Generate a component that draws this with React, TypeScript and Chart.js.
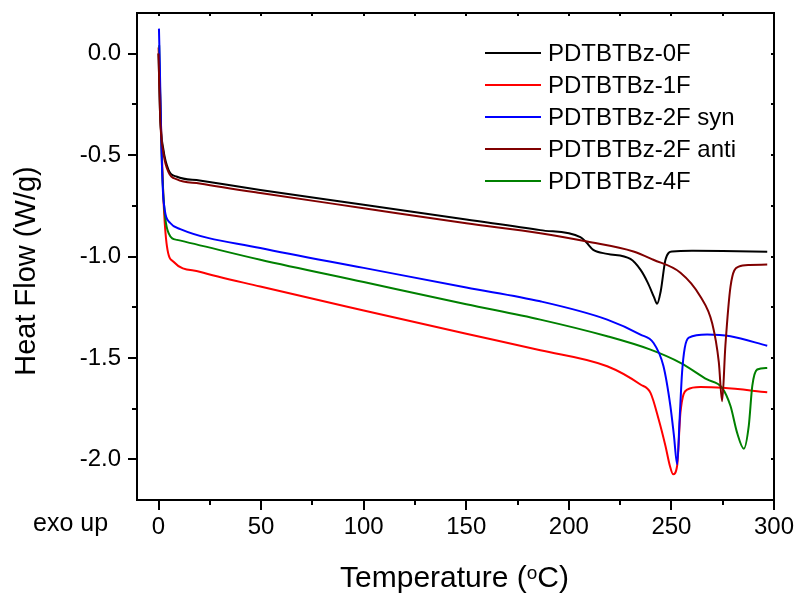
import React, { useEffect, useRef } from "react";
import { Chart, registerables } from "chart.js";

Chart.register(...registerables);

const FONT = "'Liberation Sans', Arial, Helvetica, sans-serif";

const seriesLabels = ["PDTBTBz-0F", "PDTBTBz-1F", "PDTBTBz-2F syn", "PDTBTBz-2F anti", "PDTBTBz-4F"];
const seriesColors = ["#000000", "#ff0000", "#0000ff", "#800000", "#008000"];
const seriesOrder = [5, 4, 2, 1, 3];

const temp0F = [0, 0.8, 2.4, 4.9, 9.0, 20, 49.6, 100, 150, 186.1, 205.6, 208.5, 211.9, 218.7, 230.0, 234.9, 238.5, 241.5, 243.0, 244.8, 247.1, 250.4, 260, 275, 296.7];
const flow0F = [0.0, -0.31, -0.475, -0.574, -0.607, -0.625, -0.672, -0.745, -0.818, -0.87, -0.905, -0.93, -0.967, -0.987, -1.012, -1.065, -1.13, -1.2, -1.233, -1.17, -1.016, -0.975, -0.972, -0.973, -0.977];

const temp1F = [0, 0.6, 1.5, 2.4, 4.1, 7.3, 20, 49.6, 100, 150, 186.1, 218.7, 234.9, 239.8, 243.8, 247.1, 249.2, 250.8, 252.8, 254.4, 257.7, 264.1, 275, 296.7];
const flow1F = [0.03, -0.15, -0.45, -0.72, -0.95, -1.026, -1.075, -1.148, -1.266, -1.381, -1.462, -1.541, -1.631, -1.672, -1.803, -1.934, -2.03, -2.073, -2.03, -1.77, -1.656, -1.643, -1.647, -1.669];

const temp2Fsyn = [0.2, 0.6, 1.4, 2.4, 5.7, 10.6, 49.6, 100, 150, 186.1, 218.7, 234.9, 241.2, 246.1, 249.5, 251.2, 252.8, 254, 255.2, 256.5, 258.5, 267.4, 278.8, 296.7];
const flow2Fsyn = [0.123, -0.05, -0.45, -0.72, -0.835, -0.865, -0.958, -1.056, -1.153, -1.221, -1.311, -1.385, -1.425, -1.54, -1.737, -1.88, -2.024, -1.8, -1.57, -1.45, -1.4, -1.385, -1.393, -1.44];

const temp2Fanti = [0, 0.8, 2.4, 4.9, 9.0, 20, 49.6, 100, 150, 186.1, 208.9, 231.5, 241.2, 254.4, 264.1, 269.9, 273.1, 274.7, 276.3, 278.8, 282.8, 288, 296.7];
const flow2Fanti = [0.0, -0.32, -0.49, -0.585, -0.62, -0.64, -0.687, -0.762, -0.836, -0.885, -0.926, -0.975, -1.016, -1.08, -1.197, -1.33, -1.52, -1.713, -1.44, -1.148, -1.05, -1.042, -1.04];

const temp4F = [0.3, 0.8, 1.7, 4.9, 9.0, 49.6, 100, 150, 186.1, 218.7, 239.8, 254.4, 267.4, 274.7, 278.8, 282.0, 285.3, 287.7, 289.4, 291.8, 296.7];
const flow4F = [0.041, -0.2, -0.56, -0.885, -0.918, -1.016, -1.126, -1.235, -1.311, -1.393, -1.459, -1.524, -1.606, -1.647, -1.737, -1.868, -1.947, -1.835, -1.639, -1.557, -1.549];

const seriesTemps = [temp0F, temp1F, temp2Fsyn, temp2Fanti, temp4F];
const seriesFlows = [flow0F, flow1F, flow2Fsyn, flow2Fanti, flow4F];

const xMajorTicks = [0, 50, 100, 150, 200, 250, 300];
const xMinorTicks = [25, 75, 125, 175, 225, 275];
const yMajorTicks = [-2.0, -1.5, -1.0, -0.5, 0.0];
const yMinorTicks = [-1.75, -1.25, -0.75, -0.25];

const xTitleMain = "Temperature (";
const xTitleSup = "o";
const xTitleEnd = "C)";
const yTitle = "Heat Flow (W/g)";
const cornerNote = "exo up";

const decorPlugin = {
  id: "decor",
  afterDraw(chart: any) {
    const { ctx, chartArea: a, scales } = chart;
    const xs = scales.x;
    const ys = scales.y;
    ctx.save();
    ctx.strokeStyle = "#000";
    ctx.lineWidth = 2;
    ctx.strokeRect(a.left, a.top, a.right - a.left, a.bottom - a.top);

    const line = (x1: number, y1: number, x2: number, y2: number) => {
      ctx.beginPath();
      ctx.moveTo(x1, y1);
      ctx.lineTo(x2, y2);
      ctx.stroke();
    };
    ctx.lineWidth = 2;
    xMajorTicks.forEach((v) => {
      const p = Math.round(xs.getPixelForValue(v));
      line(p, a.bottom, p, a.bottom + 10);
      line(p, a.top, p, a.top + 3);
    });
    xMinorTicks.forEach((v) => {
      const p = Math.round(xs.getPixelForValue(v));
      line(p, a.bottom, p, a.bottom + 5);
      line(p, a.top, p, a.top + 3);
    });
    yMajorTicks.forEach((v) => {
      const p = Math.round(ys.getPixelForValue(v));
      line(a.left - 9, p, a.left, p);
      line(a.right - 3, p, a.right, p);
    });
    yMinorTicks.forEach((v) => {
      const p = Math.round(ys.getPixelForValue(v));
      line(a.left - 5, p, a.left, p);
      line(a.right - 3, p, a.right, p);
    });

    // Legend
    ctx.fillStyle = "#000";
    ctx.font = `24px ${FONT}`;
    ctx.textAlign = "left";
    ctx.textBaseline = "middle";
    chart.data.datasets.forEach((ds: any, i: number) => {
      const cy = a.top + 40 + i * 32;
      ctx.strokeStyle = ds.borderColor;
      ctx.lineWidth = 2;
      line(a.left + 348, cy, a.left + 404, cy);
      ctx.fillStyle = "#000";
      ctx.fillText(ds.label, a.left + 411, cy + 1);
    });

    // Y title
    ctx.save();
    ctx.font = `29px ${FONT}`;
    ctx.textAlign = "center";
    ctx.textBaseline = "alphabetic";
    ctx.translate(35, 271);
    ctx.rotate(-Math.PI / 2);
    ctx.fillText(yTitle, 0, 0);
    ctx.restore();

    // X title with superscript
    ctx.textBaseline = "alphabetic";
    ctx.textAlign = "left";
    ctx.font = `30px ${FONT}`;
    const w1 = ctx.measureText(xTitleMain).width;
    const w3 = ctx.measureText(xTitleEnd).width;
    ctx.font = `19px ${FONT}`;
    const w2 = ctx.measureText(xTitleSup).width;
    const total = w1 + w2 + w3;
    const cx = (a.left + a.right) / 2 - 1;
    let sx = cx - total / 2;
    const base = 587;
    ctx.font = `30px ${FONT}`;
    ctx.fillText(xTitleMain, sx, base);
    sx += w1;
    ctx.font = `19px ${FONT}`;
    ctx.fillText(xTitleSup, sx, base - 8);
    sx += w2;
    ctx.font = `30px ${FONT}`;
    ctx.fillText(xTitleEnd, sx, base);

    // corner note
    ctx.font = `25px ${FONT}`;
    ctx.fillText(cornerNote, 33, 531);
    ctx.restore();
  },
};

const zeroPad = (s: any) => {
  s.paddingTop = 0;
  s.paddingBottom = 0;
  s.paddingLeft = 0;
  s.paddingRight = 0;
};

export default function App() {
  const ref = useRef<HTMLCanvasElement | null>(null);
  useEffect(() => {
    if (!ref.current) return;
    const datasets = seriesLabels.map((label, i) => ({
      label,
      data: seriesTemps[i].map((t, j) => ({ x: t, y: seriesFlows[i][j] })),
      borderColor: seriesColors[i],
      backgroundColor: seriesColors[i],
      borderWidth: 2,
      pointRadius: 0,
      fill: false,
      cubicInterpolationMode: "monotone" as const,
      order: seriesOrder[i],
    }));
    const chart = new Chart(ref.current, {
      type: "line",
      data: { datasets },
      options: {
        responsive: false,
        animation: false,
        devicePixelRatio: 1,
        layout: { padding: { left: 0, top: 13, right: 25, bottom: 0 } },
        plugins: { legend: { display: false }, tooltip: { enabled: false } },
        scales: {
          x: {
            type: "linear",
            min: -10.5,
            max: 300,
            afterFit: (s: any) => {
              s.height = 96;
              zeroPad(s);
            },
            afterBuildTicks: (s: any) => {
              s.ticks = xMajorTicks.map((v) => ({ value: v }));
            },
            grid: { display: false, drawTicks: false },
            border: { display: false },
            ticks: {
              autoSkip: false,
              maxRotation: 0,
              padding: 13,
              color: "#000",
              font: { family: FONT, size: 24 },
              callback: (v: any) => String(v),
            },
          },
          y: {
            type: "linear",
            min: -2.2,
            max: 0.2,
            afterFit: (s: any) => {
              s.width = 137;
              zeroPad(s);
            },
            afterBuildTicks: (s: any) => {
              s.ticks = yMajorTicks.map((v) => ({ value: v }));
            },
            grid: { display: false, drawTicks: false },
            border: { display: false },
            ticks: {
              padding: 16,
              color: "#000",
              font: { family: FONT, size: 24 },
              callback: (v: any) => Number(v).toFixed(1),
            },
          },
        },
      },
      plugins: [decorPlugin],
    });
    return () => chart.destroy();
  }, []);
  return (
    <div style={{ position: "absolute", left: 0, top: 0, width: 799, height: 596, background: "#fff" }}>
      <canvas ref={ref} width={799} height={596} />
    </div>
  );
}
